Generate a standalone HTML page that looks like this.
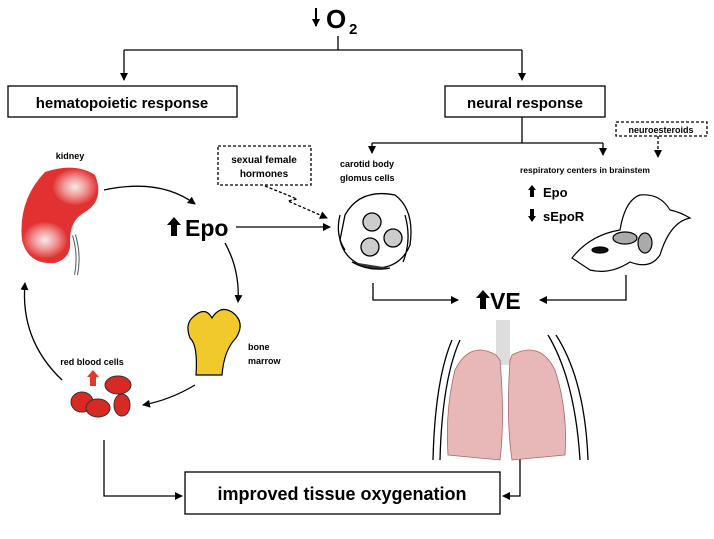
<!DOCTYPE html>
<html><head><style>
body{margin:0;background:#fff;}
svg{display:block;font-family:"Liberation Sans",Arial,sans-serif;}
</style></head><body>
<svg width="714" height="539" viewBox="0 0 714 539" xmlns="http://www.w3.org/2000/svg">
<defs>
<marker id="a" markerWidth="8" markerHeight="8" refX="7" refY="4" orient="auto" markerUnits="userSpaceOnUse"><path d="M0,0 L8,4 L0,8 Z" fill="#000"/></marker>
<radialGradient id="kg" cx="50%" cy="50%" r="50%"><stop offset="0" stop-color="#f4eaea"/><stop offset="0.5" stop-color="#f29a9a"/><stop offset="1" stop-color="#e33a3a"/></radialGradient>
</defs>
<g stroke="#000" stroke-width="1.3" fill="none">
<path d="M316,8 V26" stroke-width="2" marker-end="url(#a)"/>
<path d="M338,36 V50 M124,50 H522"/>
<path d="M124,50 V80" marker-end="url(#a)"/>
<path d="M522,50 V80" marker-end="url(#a)"/>
<rect x="8" y="86" width="229" height="31"/>
<rect x="445" y="86" width="160" height="31"/>
<path d="M522,117 V143 M372,143 H603"/>
<path d="M372,143 V153" marker-end="url(#a)"/>
<path d="M603,143 V155" marker-end="url(#a)"/>
<rect x="616" y="122" width="91" height="14" stroke-dasharray="3,2"/>
<path d="M658,136 V157" stroke-dasharray="3,2" marker-end="url(#a)"/>
<rect x="218" y="146" width="93" height="39" stroke-dasharray="3,2"/>
<path d="M265,186 L297,199 L288,201 L327,218" stroke-dasharray="3,2" marker-end="url(#a)"/>
<path d="M104,190 Q160,178 195,204" marker-end="url(#a)"/>
<path d="M236,227 H330" marker-end="url(#a)"/>
<path d="M225,243 Q240,270 238,302" marker-end="url(#a)"/>
<path d="M195,385 Q170,400 143,405" marker-end="url(#a)"/>
<path d="M62,380 Q20,340 25,283" marker-end="url(#a)"/>
<path d="M373,283 V300 H458" marker-end="url(#a)"/>
<path d="M626,275 V300 H540" marker-end="url(#a)"/>
<rect x="185" y="472" width="315" height="42"/>
<path d="M104,440 V496 H182" marker-end="url(#a)"/>
<path d="M520,440 V496 H503" marker-end="url(#a)"/>
</g>
<g fill="#000" font-weight="bold">
<text x="326" y="28" font-size="26">O</text><text x="349" y="34" font-size="15">2</text>
<text x="122" y="108" font-size="15" text-anchor="middle">hematopoietic response</text>
<text x="525" y="108" font-size="15" text-anchor="middle">neural response</text>
<text x="661" y="133" font-size="9" text-anchor="middle">neuroesteroids</text>
<text x="264" y="163" font-size="10" text-anchor="middle">sexual female</text>
<text x="264" y="177" font-size="10" text-anchor="middle">hormones</text>
<text x="70" y="159" font-size="9" text-anchor="middle">kidney</text>
<text x="340" y="167" font-size="9">carotid body</text>
<text x="340" y="181" font-size="9">glomus cells</text>
<text x="520" y="173" font-size="8.5">respiratory centers in brainstem</text>
<text x="543" y="197" font-size="13">Epo</text>
<text x="543" y="221" font-size="13">sEpoR</text>
<text x="185" y="236" font-size="23">Epo</text>
<text x="490" y="309" font-size="23">VE</text>
<text x="248" y="350" font-size="9">bone</text>
<text x="248" y="364" font-size="9">marrow</text>
<text x="92" y="365" font-size="9" text-anchor="middle">red blood cells</text>
<text x="342" y="500" font-size="18" text-anchor="middle">improved tissue oxygenation</text>
</g>
<g fill="#000">
<path d="M174,217 L181,225 H177 V236 H171 V225 H167 Z"/>
<path d="M483,290 L490,298 H486 V309 H480 V298 H476 Z"/>
<path d="M532,185 L536,190 H534 V197 H530 V190 H528 Z"/>
<path d="M532,222 L536,216 H534 V209 H530 V216 H528 Z"/>
</g>
<path d="M93,370 L99,377 H96 V386 H90 V377 H87 Z" fill="#e23a2a"/>
<g>
<path d="M45,172 Q75,162 95,175 Q105,200 85,212 Q70,220 70,240 Q72,258 55,263 Q28,265 22,240 Q18,200 45,172 Z" fill="#e33030"/>
<ellipse cx="75" cy="187" rx="22" ry="18" fill="url(#kg)"/>
<ellipse cx="45" cy="240" rx="22" ry="18" fill="url(#kg)"/>
<path d="M74,235 Q80,255 76,275" stroke="#555" stroke-width="4" fill="none"/>
<path d="M74,235 Q80,255 76,275" stroke="#fff" stroke-width="2" fill="none"/>
</g>
<path d="M192,318 Q205,305 212,318 Q220,305 232,312 Q246,322 236,338 Q224,350 222,375 H196 Q198,345 190,338 Q185,325 192,318 Z" fill="#f2c92a" stroke="#000" stroke-width="1.2"/>
<g fill="#d72a22" stroke="#333" stroke-width="1">
<ellipse cx="118" cy="385" rx="13" ry="9"/>
<ellipse cx="82" cy="402" rx="11" ry="10"/>
<ellipse cx="98" cy="408" rx="12" ry="9"/>
<ellipse cx="122" cy="405" rx="8" ry="11"/>
</g>
<g stroke="#000" stroke-width="1.3" fill="#fff">
<path d="M345,215 Q360,188 395,195 Q415,210 410,245 Q400,270 370,268 Q345,262 340,240 Z"/>
<circle cx="372" cy="222" r="9" fill="#ccc"/>
<circle cx="393" cy="238" r="9" fill="#ccc"/>
<circle cx="370" cy="247" r="9" fill="#ccc"/>
<path d="M340,215 Q335,235 345,250" fill="none"/>
<path d="M405,215 Q412,240 403,262" fill="none"/>
<path d="M352,262 Q370,272 390,268" fill="#333"/>
</g>
<g stroke="#000" stroke-width="1.2">
<path d="M572,258 Q590,235 620,230 Q625,200 640,195 Q660,193 670,210 Q680,212 690,218 Q670,222 660,255 Q650,270 630,262 Q610,275 590,270 Z" fill="#fff"/>
<ellipse cx="625" cy="238" rx="12" ry="6" fill="#aaa"/>
<ellipse cx="645" cy="243" rx="7" ry="10" fill="#aaa"/>
<ellipse cx="600" cy="250" rx="8" ry="3" fill="#111"/>
</g>
<g>
<rect x="496" y="320" width="14" height="45" fill="#ddd"/>
<path d="M496,355 Q470,340 455,370 Q445,410 448,455 L500,460 Q505,420 500,360 Z" fill="#e8b7b7" stroke="#a66" stroke-width="0.8"/>
<path d="M512,355 Q540,340 555,370 Q568,410 565,455 L512,460 Q506,420 510,360 Z" fill="#e8b7b7" stroke="#a66" stroke-width="0.8"/>
<path d="M452,340 Q435,380 433,460 M460,340 Q442,380 440,460 M548,335 Q575,380 580,460 M556,335 Q585,380 588,460" stroke="#000" stroke-width="1.3" fill="none"/>
</g>
</svg>
</body></html>
